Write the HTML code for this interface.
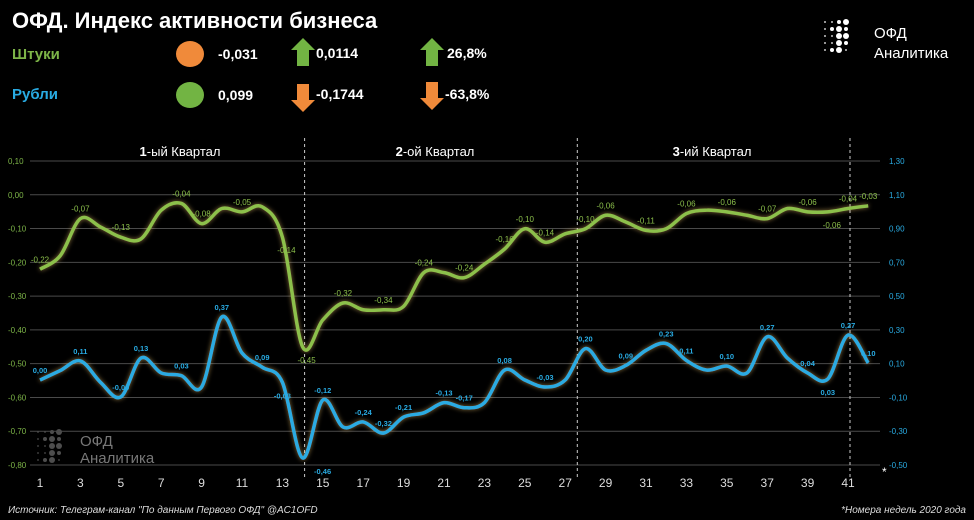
<!DOCTYPE html>
<html><head><meta charset="utf-8"><style>
body{margin:0;background:#000;width:974px;height:520px;overflow:hidden;font-family:"Liberation Sans",sans-serif;}
svg{display:block}
</style></head><body>
<svg id="c" width="974" height="520" xmlns="http://www.w3.org/2000/svg">
<defs>
<filter id="glow" x="-10%" y="-10%" width="120%" height="120%"><feGaussianBlur stdDeviation="2.5" result="b"/><feFlood flood-color="#ffd070" flood-opacity="0.55"/><feComposite in2="b" operator="in"/><feMerge><feMergeNode/><feMergeNode in="SourceGraphic"/></feMerge></filter>
</defs>
<text x="12" y="28" fill="#fff" font-size="22" font-weight="bold">ОФД. Индекс активности бизнеса</text>
<text x="12" y="59" fill="#7db548" font-size="15" font-weight="bold">Штуки</text>
<text x="12" y="99" fill="#29abe2" font-size="15" font-weight="bold">Рубли</text>
<ellipse cx="190" cy="54" rx="14" ry="13" fill="#f08a3a"/>
<ellipse cx="190" cy="95" rx="14" ry="13" fill="#72b443"/>
<text x="218" y="59" fill="#fff" font-size="14" font-weight="bold">-0,031</text>
<text x="218" y="100" fill="#fff" font-size="14" font-weight="bold">0,099</text>
<polygon points="303,38 315,50 309,50 309,66 297,66 297,50 291,50" fill="#72b443"/>
<text x="316" y="58" fill="#fff" font-size="14" font-weight="bold">0,0114</text>
<polygon points="303,112 315,100 309,100 309,84 297,84 297,100 291,100" fill="#f08a3a"/>
<text x="316" y="99" fill="#fff" font-size="14" font-weight="bold">-0,1744</text>
<polygon points="432,38 444,50 438,50 438,66 426,66 426,50 420,50" fill="#72b443"/>
<text x="447" y="58" fill="#fff" font-size="14" font-weight="bold">26,8%</text>
<polygon points="432,110 444,98 438,98 438,82 426,82 426,98 420,98" fill="#f08a3a"/>
<text x="445" y="99" fill="#fff" font-size="14" font-weight="bold">-63,8%</text>
<g id="logo"></g>
<text x="874" y="38" fill="#fff" font-size="15">ОФД</text>
<text x="874" y="58" fill="#fff" font-size="15">Аналитика</text>
<g id="wm" opacity="0.45"></g>
<text x="80" y="446" fill="#777" font-size="15">ОФД</text>
<text x="80" y="463" fill="#777" font-size="15">Аналитика</text>
<g id="grid"></g><g id="series"></g><g id="labels"></g>
<text x="180" y="156" fill="#fff" font-size="13" text-anchor="middle"><tspan font-weight="bold">1</tspan>-ый Квартал</text>
<text x="435" y="156" fill="#fff" font-size="13" text-anchor="middle"><tspan font-weight="bold">2</tspan>-ой Квартал</text>
<text x="712" y="156" fill="#fff" font-size="13" text-anchor="middle"><tspan font-weight="bold">3</tspan>-ий Квартал</text>
<text x="882" y="476" fill="#fff" font-size="12">*</text>
<text x="8" y="513" fill="#ddd" font-size="10" font-style="italic">Источник: Телеграм-канал "По данным Первого ОФД" @AC1OFD</text>
<text x="966" y="513" fill="#ddd" font-size="10" font-style="italic" text-anchor="end">*Номера недель 2020 года</text>
</svg>
<script>
const weeks=[1,2,3,4,5,6,7,8,9,10,11,12,13,14,15,16,17,18,19,20,21,22,23,24,25,26,27,28,29,30,31,32,33,34,35,36,37,38,39,40,41,42];
const unitsValues=[-0.22,-0.18,-0.07,-0.095,-0.125,-0.13,-0.045,-0.025,-0.085,-0.04,-0.05,-0.035,-0.125,-0.45,-0.37,-0.32,-0.34,-0.34,-0.33,-0.23,-0.23,-0.245,-0.205,-0.16,-0.10,-0.14,-0.115,-0.10,-0.06,-0.08,-0.105,-0.10,-0.055,-0.045,-0.05,-0.06,-0.07,-0.04,-0.05,-0.05,-0.04,-0.032];
const rublesValues=[0.004,0.06,0.117,-0.01,-0.096,0.134,0.046,0.03,-0.037,0.377,0.164,0.08,-0.01,-0.457,-0.114,-0.274,-0.244,-0.31,-0.215,-0.19,-0.13,-0.16,-0.13,0.063,0.004,-0.037,0.004,0.19,0.063,0.09,0.18,0.22,0.12,0.063,0.087,0.046,0.26,0.134,0.046,0.01,0.27,0.105];
const unitsLabels=["-0,22",null,"-0,07",null,"-0,13",null,null,"-0,04","-0,08",null,"-0,05",null,"-0,14","-0,45",null,"-0,32",null,"-0,34",null,"-0,24",null,"-0,24",null,"-0,16","-0,10","-0,14",null,"-0,10","-0,06",null,"-0,11",null,"-0,06",null,"-0,06",null,"-0,07",null,"-0,06","-0,06","-0,04","-0,03"];
const rublesLabels=["0,00",null,"0,11",null,"-0,09","0,13",null,"0,03",null,"0,37",null,"0,09","-0,03","-0,46","-0,12",null,"-0,24","-0,32","-0,21",null,"-0,13","-0,17",null,"0,08",null,"-0,03",null,"0,20",null,"0,09",null,"0,23","0,11",null,"0,10",null,"0,27",null,"0,04","0,03","0,27","0,10"];
const leftTicks=["0,10","0,00","-0,10","-0,20","-0,30","-0,40","-0,50","-0,60","-0,70","-0,80"];
const rightTicks=["1,30","1,10","0,90","0,70","0,50","0,30","0,10","-0,10","-0,30","-0,50"];
const xTicks=[1,3,5,7,9,11,13,15,17,19,21,23,25,27,29,31,33,35,37,39,41];
const quarterBreaks=[14,27.5,41];
const NS="http://www.w3.org/2000/svg";
const X=w=>40+(w-1)*20.2;
const YL=v=>195-v*337.5;
const YR=v=>161+(1.30-v)*169;
function mk(tag,attrs,parent){const e=document.createElementNS(NS,tag);for(const k in attrs)e.setAttribute(k,attrs[k]);parent.appendChild(e);return e;}
const grid=document.getElementById('grid');
leftTicks.forEach((t,i)=>{
 const y=161+i*33.78;
 const l=mk('line',{x1:30,x2:880,y1:y,y2:y,stroke:'#4a4a4a','stroke-width':1},grid);
 
 
 const a=mk('text',{x:8,y:y+3,fill:'#7db548','font-size':8},grid);a.textContent=t;
 
 
 const b=mk('text',{x:889,y:y+3,fill:'#29abe2','font-size':8},grid);b.textContent=rightTicks[i];
 
 
});
xTicks.forEach(w=>{
 const t=mk('text',{x:X(w),y:487,fill:'#ddd','font-size':12,'text-anchor':'middle'},grid);t.textContent=w;
 
 
});
quarterBreaks.forEach(w=>{
 const l=mk('line',{x1:X(w)+2,x2:X(w)+2,y1:138,y2:480,stroke:'#ccc','stroke-width':1,'stroke-dasharray':'3,3'},grid);
 
 
});
function path(pts){let d=`M${pts[0][0]},${pts[0][1]}`;for(let i=0;i<pts.length-1;i++){const p0=pts[i-1]||pts[i],p1=pts[i],p2=pts[i+1],p3=pts[i+2]||p2;d+=` C${p1[0]+(p2[0]-p0[0])/6},${p1[1]+(p2[1]-p0[1])/6} ${p2[0]-(p3[0]-p1[0])/6},${p2[1]-(p3[1]-p1[1])/6} ${p2[0]},${p2[1]}`;}return d;}
const ser=document.getElementById('series');
const gp=mk('path',{d:path(weeks.map((w,i)=>[X(w),YL(unitsValues[i])])),fill:'none',stroke:'#8cc04b','stroke-width':3.5,filter:'url(#glow)'},ser);


const bp=mk('path',{d:path(weeks.map((w,i)=>[X(w),YR(rublesValues[i])])),fill:'none',stroke:'#29abe2','stroke-width':3.5,filter:'url(#glow)'},ser);


const lab=document.getElementById('labels');
weeks.forEach((w,i)=>{
 if(unitsLabels[i]){const below=[12,13,39].includes(i);const t=mk('text',{x:X(w)+(below?4:0),y:YL(unitsValues[i])+(below?16:-7),fill:'#8cc04b','font-size':8,'text-anchor':'middle'},lab);t.textContent=unitsLabels[i];
 
 }
 if(rublesLabels[i]){const below=[12,13,39].includes(i);const t=mk('text',{x:X(w)+(i==13?20:0),y:YR(rublesValues[i])+(below?16:-7),fill:'#29abe2','font-size':7.5,'font-weight':'bold','text-anchor':'middle'},lab);t.textContent=rublesLabels[i];
 
 }
});
function dots(g,x0,y0,fill){const rows=[[1,1,2,3],[1,2,3,2],[1,1,3,3],[1,1,3,2],[1,2,3,1]];rows.forEach((r,j)=>r.forEach((s,k)=>{mk('circle',{cx:x0+k*7,cy:y0+j*7,r:s==3?3:s==2?2:0.9,fill:fill},g);}));}
dots(document.getElementById('logo'),825,22,'#fff');
dots(document.getElementById('wm'),38,432,'#aaa');
</script>
</body></html>
